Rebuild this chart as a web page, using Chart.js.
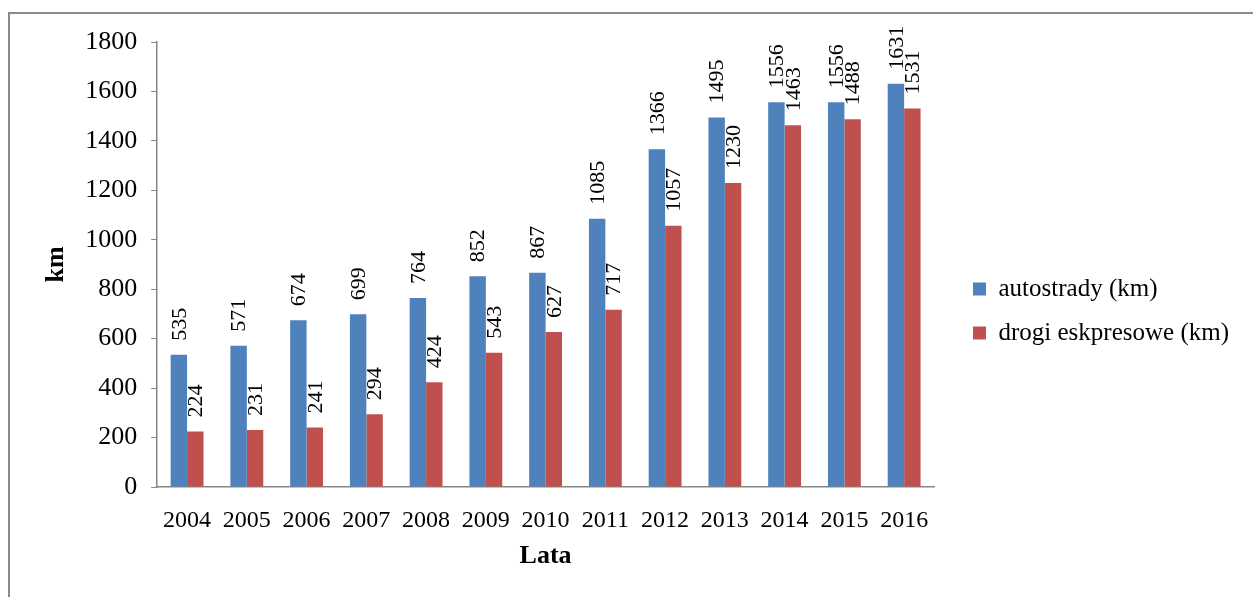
<!DOCTYPE html>
<html>
<head>
<meta charset="utf-8">
<script src="https://cdn.jsdelivr.net/npm/chart.js@4/dist/chart.umd.min.js"></script>
<style>
  html, body { margin: 0; padding: 0; background: #fff; overflow: hidden; }
  #frame { position: absolute; left: 8px; top: 12px; width: 1300px; height: 640px; border: 2px solid #8a8a8a; }
  #wrap { position: absolute; left: 0; top: 0; width: 1253px; height: 597px; }
</style>
</head>
<body>
<div id="frame"></div>
<div id="wrap"><canvas id="myChart" width="1253" height="597"></canvas></div>
<script>
var years = ["2004", "2005", "2006", "2007", "2008", "2009", "2010", "2011", "2012", "2013", "2014", "2015", "2016"];
var autostrady = [535, 571, 674, 699, 764, 852, 867, 1085, 1366, 1495, 1556, 1556, 1631];
var drogiEkspresowe = [224, 231, 241, 294, 424, 543, 627, 717, 1057, 1230, 1463, 1488, 1531];
var seriesNames = ["autostrady (km)", "drogi eskpresowe (km)"];

var serif = "'Liberation Serif', 'Times New Roman', serif";

// values written vertically above every bar
var barLabels = {
    id: 'barLabels',
    afterDatasetsDraw: function (chart) {
        var ctx = chart.ctx;
        ctx.save();
        ctx.font = "22px " + serif;
        ctx.fillStyle = "#000";
        ctx.textAlign = "left";
        ctx.textBaseline = "middle";
        chart.data.datasets.forEach(function (ds, i) {
            var meta = chart.getDatasetMeta(i);
            meta.data.forEach(function (bar, j) {
                ctx.save();
                ctx.translate(bar.x, bar.y - 14);
                ctx.rotate(-Math.PI / 2);
                ctx.fillText(String(ds.data[j]), 0, 1);
                ctx.restore();
            });
        });
        ctx.restore();
    }
};

// legend sits a bit further from the plot than chart.js puts it
var legendShift = {
    id: 'legendShift',
    afterLayout: function (chart) {
        var lg = chart.legend;
        if (!lg) return;
        lg.left += 20;
        lg.right += 20;
        lg.top -= 8;
        lg.bottom -= 8;
    }
};

var ctx = document.getElementById("myChart").getContext("2d");
var chartObj = new Chart(ctx, {
    type: 'bar',
    data: {
        labels: years,
        datasets: [
            {
                label: seriesNames[0],
                data: autostrady,
                backgroundColor: "#4F81BD",
                barPercentage: 1,
                categoryPercentage: 0.55
            },
            {
                label: seriesNames[1],
                data: drogiEkspresowe,
                backgroundColor: "#C0504D",
                barPercentage: 1,
                categoryPercentage: 0.55
            }
        ]
    },
    options: {
        responsive: false,
        animation: false,
        layout: { padding: { left: 29, right: 34, top: 42, bottom: 1 } },
        plugins: {
            legend: {
                position: 'right',
                labels: {
                    font: { family: serif, size: 25 },
                    color: "#000",
                    boxWidth: 13,
                    boxHeight: 13,
                    padding: 19
                }
            },
            tooltip: { enabled: false }
        },
        scales: {
            x: {
                grid: { display: true, drawOnChartArea: false, drawTicks: false },
                border: { color: "#868686", width: 1.5 },
                ticks: { font: { family: serif, size: 24 }, color: "#000", padding: 19, maxRotation: 0 },
                title: { display: true, text: "Lata", font: { family: serif, size: 26, weight: 'bold' }, color: "#000", padding: { top: -13, bottom: 24 } }
            },
            y: {
                min: 0,
                max: 1800,
                grid: { display: true, drawOnChartArea: false, tickLength: 6, color: "#868686" },
                border: { color: "#868686", width: 1.5 },
                ticks: {
                    stepSize: 200,
                    font: { family: serif, size: 26 },
                    color: "#000",
                    padding: 14,
                    callback: function (v) { return String(v); }
                },
                title: { display: true, text: "km", font: { family: serif, size: 26, weight: 'bold' }, color: "#000", padding: { top: 12, bottom: -1 } }
            }
        }
    },
    plugins: [barLabels, legendShift]
});
</script>
</body>
</html>
